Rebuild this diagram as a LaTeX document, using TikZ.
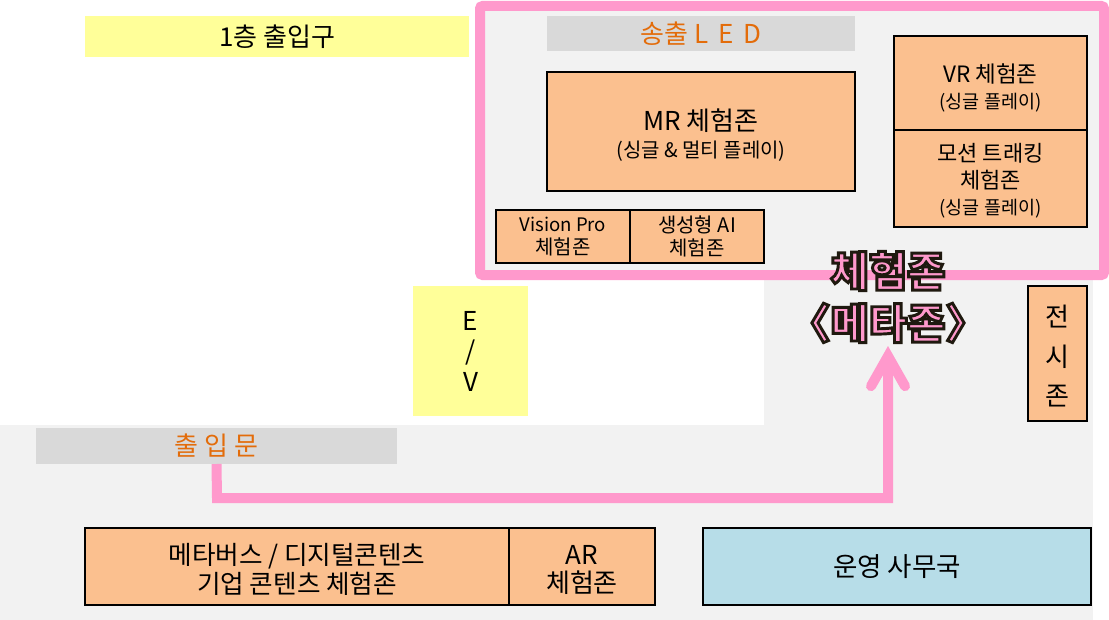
\documentclass[tikz,border=0pt]{standalone}
\usepackage{fontspec}
\setmainfont{Noto Sans CJK KR}
\usetikzlibrary{arrows.meta}
\definecolor{zone}{HTML}{FBC08F}
\definecolor{hall}{HTML}{F2F2F2}
\definecolor{band}{HTML}{D9D9D9}
\definecolor{lemon}{HTML}{FFFF99}
\definecolor{office}{HTML}{B7DDE8}
\definecolor{route}{HTML}{FF99CC}
\definecolor{ledtext}{HTML}{E36C0A}
\newcommand{\px}[1]{\fontsize{\dimexpr#1pt*3/4\relax}{\dimexpr#1pt*9/8\relax}\selectfont}
\newcommand{\dnstrut}[1]{\rule{0pt}{\dimexpr#1pt*3/4\relax}}
\newcommand{\outl}[1]{\special{pdf:code q 2 Tr 2.2 w 0.12 0.10 0.06 RG 1 0.6 0.8 rg}#1\special{pdf:code Q}}
\tikzset{
  x=0.75pt,y=-0.75pt,
  lh/.style={execute at begin node={\lineskiplimit=-20pt\baselineskip=\dimexpr#1pt*3/4\relax}},
  base/.style={inner sep=0pt,outer sep=0pt,align=center,text=black},
  zonebox/.style={base,draw=black,line width=1.2pt,fill=zone},
  bandbox/.style={base,fill=band,text=ledtext},
  yellowbox/.style={base,fill=lemon},
  officebox/.style={base,draw=black,line width=1.2pt,fill=office},
  routeline/.style={draw=route,line width=7.5pt,line join=miter},
}
\newcommand{\bx}[7][zonebox]{\node[#1,minimum width=#4*0.75pt-#2*0.75pt,minimum height=#5*0.75pt-#3*0.75pt,anchor=center] (#6) at ({(#2+#4)/2},{(#3+#5)/2}) {#7};}
\begin{document}
\begin{tikzpicture}
\useasboundingbox (0,0) rectangle (1109,620);
\fill[white] (0,0) rectangle (1109,620);
\fill[hall] (0,425) rectangle (1093,620);
\fill[hall] (764,270) rectangle (1093,425);
\draw[draw=route,fill=hall,line width=7.5pt,rounded corners=2pt] (480,6) rectangle (1104,275);
\bx[yellowbox]{85}{16}{469}{57}{entry}{\px{26}1층 출입구}
\bx[bandbox]{547}{16}{855}{51}{led}{\px{26}송출 L\, E\, D}
\bx[zonebox,lh=27]{547}{72}{855}{191}{mr}{\dnstrut{29}\px{26}MR 체험존\\\px{20}(싱글 \& 멀티 플레이)}
\bx[zonebox,lh=26]{894}{36}{1087}{130}{vr}{\dnstrut{28}\px{22.5}VR 체험존\\\px{18.5}(싱글 플레이)}
\bx[zonebox,lh=26.5]{894}{130}{1087}{227}{motion}{\dnstrut{23.4}\px{22}모션 트래킹\\\px{22}체험존\\\px{18.5}(싱글 플레이)}
\bx[zonebox,lh=23]{496}{210}{630}{263}{vision}{\px{18.6}Vision Pro\\\px{20}체험존}
\bx[zonebox,lh=23]{630}{210}{764}{263}{genai}{\px{20}생성형 AI\\\px{20}체험존}
\bx[yellowbox,lh=30.5]{413}{286}{528}{416}{ev}{\px{26}E\\\px{26}/\\\px{26}V}
\bx[zonebox,lh=39.5]{1028}{286}{1087}{421}{show}{\dnstrut{27}\px{26}전\\\px{26}시\\\px{26}존}
\bx[bandbox]{36}{428}{397}{464}{exit}{\px{26}출 입 문}
\bx[zonebox,lh=29]{85}{528}{509}{605}{meta}{\dnstrut{27.5}\px{25.6}메타버스 / 디지털콘텐츠\\\px{25.6}기업 콘텐츠 체험존}
\bx[zonebox,lh=28]{509}{528}{655}{605}{ar}{\dnstrut{27}\px{26}AR\\\px{26}체험존}
\bx[officebox]{703}{528}{1091}{605}{ops}{\px{26.5}운영 사무국}
\coordinate (tip) at (888,346);
\draw[routeline,-{Straight Barb[length=22.5pt,width=25.5pt,round,line join=miter]}] (exit.south) -- (217,498) -| (tip);
\node[base,lh=52,font=\bfseries] (title) at (888,297) {\px{41.5}\outl{체험존}\\\px{41.5}\outl{〈메타존〉}};
\end{tikzpicture}
\end{document}
